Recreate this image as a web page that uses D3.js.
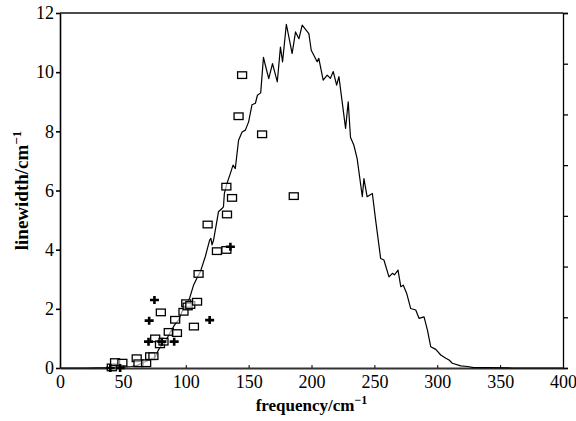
<!DOCTYPE html>
<html>
<head>
<meta charset="utf-8">
<script src="https://cdn.jsdelivr.net/npm/d3@7"></script>
<style>
	body { margin: 0; background: #fff; }
	svg { display: block; }
	.axis text { font-family: 'Liberation Serif', 'DejaVu Serif', serif; font-size: 18px; fill: #000; }
	.axis path, .axis line { stroke: #000; }
	.title { font-family: 'Liberation Serif', 'DejaVu Serif', serif; font-weight: bold; fill: #000; }
</style>
</head>
<body>
<svg id="chart" width="576" height="421"></svg>
<script>
// computed linewidth curve
const curveFreq = [0, 20, 40, 50, 57, 62, 67.7, 72, 75.7, 78.3, 81, 83.7, 87.6, 91, 94.3, 97, 99.6, 103, 106.2, 109, 111.6, 115.5, 119, 120, 120.9, 122, 124.9, 126, 128.8, 130, 130.7, 132.8, 135.5, 137.6, 139.4, 142, 144.8, 147.4, 150, 152.7, 155.4, 157, 159.6, 161.8, 163.5, 166, 169, 172.8, 175.3, 177, 180, 184.6, 187.3, 190, 192.6, 197.9, 199.8, 204.5, 205.8, 209.3, 212.5, 215, 217.3, 220, 221.8, 227.1, 229.2, 231, 233.7, 236.3, 240.4, 241.7, 244.2, 248.4, 251, 255, 257.6, 261.6, 264.3, 266, 268.8, 271, 273, 275.7, 278.9, 282.9, 285.5, 289.5, 292.2, 294.8, 298.8, 302.8, 306.8, 309.4, 312, 318.7, 324, 329, 340, 360, 400];
const curveWidth = [0, 0, 0.01, 0.03, 0.05, 0.1, 0.21, 0.3, 0.38, 0.61, 0.78, 0.89, 1.2, 1.45, 1.62, 1.9, 2.1, 2.35, 2.8, 3.05, 3.25, 3.76, 4.32, 4.38, 4.16, 4.3, 5.0, 5.28, 5.39, 5.45, 5.9, 6.24, 6.58, 6.86, 6.74, 7.7, 7.98, 8.04, 8.32, 8.9, 8.95, 9.22, 9.3, 10.5, 10.2, 9.78, 10.29, 9.67, 10.85, 10.35, 11.62, 10.63, 11.36, 11.13, 11.59, 11.3, 10.74, 10.35, 10.47, 9.73, 9.9, 9.79, 10.02, 9.56, 9.85, 8.1, 9.0, 7.8, 7.53, 7.08, 5.79, 6.4, 5.79, 5.9, 5.0, 3.7, 3.65, 3.08, 3.2, 3.15, 3.31, 2.75, 2.8, 2.52, 2.01, 1.96, 1.68, 1.73, 1.28, 0.72, 0.63, 0.44, 0.33, 0.27, 0.16, 0.07, 0.05, 0.01, 0.01, 0, 0];

// measured points, open squares
const squareFreq = [41.2, 43.8, 49.6, 61, 62.4, 68.5, 71.7, 74.3, 75.7, 79.5, 80.2, 82.3, 86.5, 91.6, 93, 98.2, 100.4, 101.5, 103.6, 106.5, 109, 110.2, 117.4, 124.8, 132.3, 132.3, 132.8, 136.8, 142, 144.8, 160.7, 185.9];
const squareWidth = [0.02, 0.2, 0.18, 0.33, 0.16, 0.16, 0.4, 0.4, 1.0, 0.8, 1.88, 0.89, 1.22, 1.63, 1.18, 1.9, 2.19, 2.08, 2.13, 1.4, 2.24, 3.18, 4.85, 3.95, 3.99, 6.13, 5.19, 5.75, 8.51, 9.9, 7.9, 5.81];

// measured points, crosses
const crossFreq = [40, 47.8, 70.4, 70.9, 75.1, 81, 90.8, 119, 135.5];
const crossWidth = [0, 0, 0.89, 1.6, 2.3, 0.89, 0.89, 1.62, 4.1];

const xTicks = [0, 50, 100, 150, 200, 250, 300, 350, 400];
const yTicks = [0, 2, 4, 6, 8, 10, 12];
const rightTicks = [0, 1, 2, 3, 4, 5, 6, 7];

const margin = { top: 13, right: 13, bottom: 53, left: 60 };
const width = 576, height = 421;

const svg = d3.select('#chart');
const xScale = d3.scaleLinear().domain([0, 400]).range([margin.left, width - margin.right]);
const yScale = d3.scaleLinear().domain([0, 12]).range([height - margin.bottom, margin.top]);
const rScale = d3.scaleLinear().domain([0, 7]).range([height - margin.bottom, margin.top]);

// frame top
svg.append('line')
	.attr('x1', xScale(0)).attr('x2', xScale(400))
	.attr('y1', yScale(12)).attr('y2', yScale(12))
	.style('stroke', '#111').style('stroke-width', 1.6);

svg.append('g')
	.attr('class', 'axis')
	.attr('transform', 'translate(' + xScale(400) + ',0)')
	.call(d3.axisRight(rScale).tickValues(rightTicks).tickSize(5).tickFormat(''))
	.call(g => g.selectAll('path, line').style('stroke-width', 1.3));

svg.append('g')
	.attr('class', 'axis')
	.attr('transform', 'translate(' + xScale(0) + ',0)')
	.call(d3.axisLeft(yScale).tickValues(yTicks).tickSize(4).tickSizeOuter(0).tickPadding(2))
	.call(g => g.selectAll('path, line').style('stroke-width', 1.6));

svg.append('g')
	.attr('class', 'axis')
	.attr('transform', 'translate(0,' + yScale(0) + ')')
	.call(d3.axisBottom(xScale).tickValues(xTicks).tickSize(-3).tickSizeOuter(0).tickPadding(5))
	.call(g => g.select('.domain').style('stroke-width', 2).style('stroke', '#333'))
	.call(g => g.selectAll('.tick text').attr('dy', '0.85em'));

// curve
let line = d3.line()
	.x(function(d) { return xScale(d[0]); })
	.y(function(d) { return yScale(d[1]); });

svg.append('path')
	.datum(d3.zip(curveFreq, curveWidth))
	.attr('d', line)
	.style('fill', 'none')
	.style('stroke', '#000')
	.style('stroke-width', 1.2)
	.style('stroke-linejoin', 'round');

// squares
svg.selectAll('.sq')
	.data(d3.zip(squareFreq, squareWidth))
	.enter().append('rect')
	.attr('class', 'sq')
	.attr('x', function(d) { return xScale(d[0]) - 4.5; })
	.attr('y', function(d) { return yScale(d[1]) - 3.3; })
	.attr('width', 9)
	.attr('height', 6.6)
	.style('fill', '#fff')
	.style('fill-opacity', 0.6)
	.style('stroke', '#000')
	.style('stroke-width', 1.3);

// crosses
svg.selectAll('.cross')
	.data(d3.zip(crossFreq, crossWidth))
	.enter().append('path')
	.attr('class', 'cross')
	.attr('transform', function(d) { return 'translate(' + xScale(d[0]) + ',' + yScale(d[1]) + ')'; })
	.attr('d', 'M-4.5,0H4.5M0,-4V4')
	.style('stroke', '#000')
	.style('stroke-width', 2.6);

// titles
svg.append('text')
	.attr('class', 'title')
	.attr('x', (xScale(0) + xScale(400)) / 2)
	.attr('y', 411)
	.style('text-anchor', 'middle')
	.style('font-size', '17px')
	.html('frequency/cm<tspan dy="-7" font-size="12">−1</tspan>');

svg.append('text')
	.attr('class', 'title')
	.attr('transform', 'translate(28,' + yScale(6) + ') rotate(-90)')
	.style('text-anchor', 'middle')
	.style('font-size', '19px')
	.html('linewidth/cm<tspan dy="-7" font-size="13">−1</tspan>');
</script>
</body>
</html>
